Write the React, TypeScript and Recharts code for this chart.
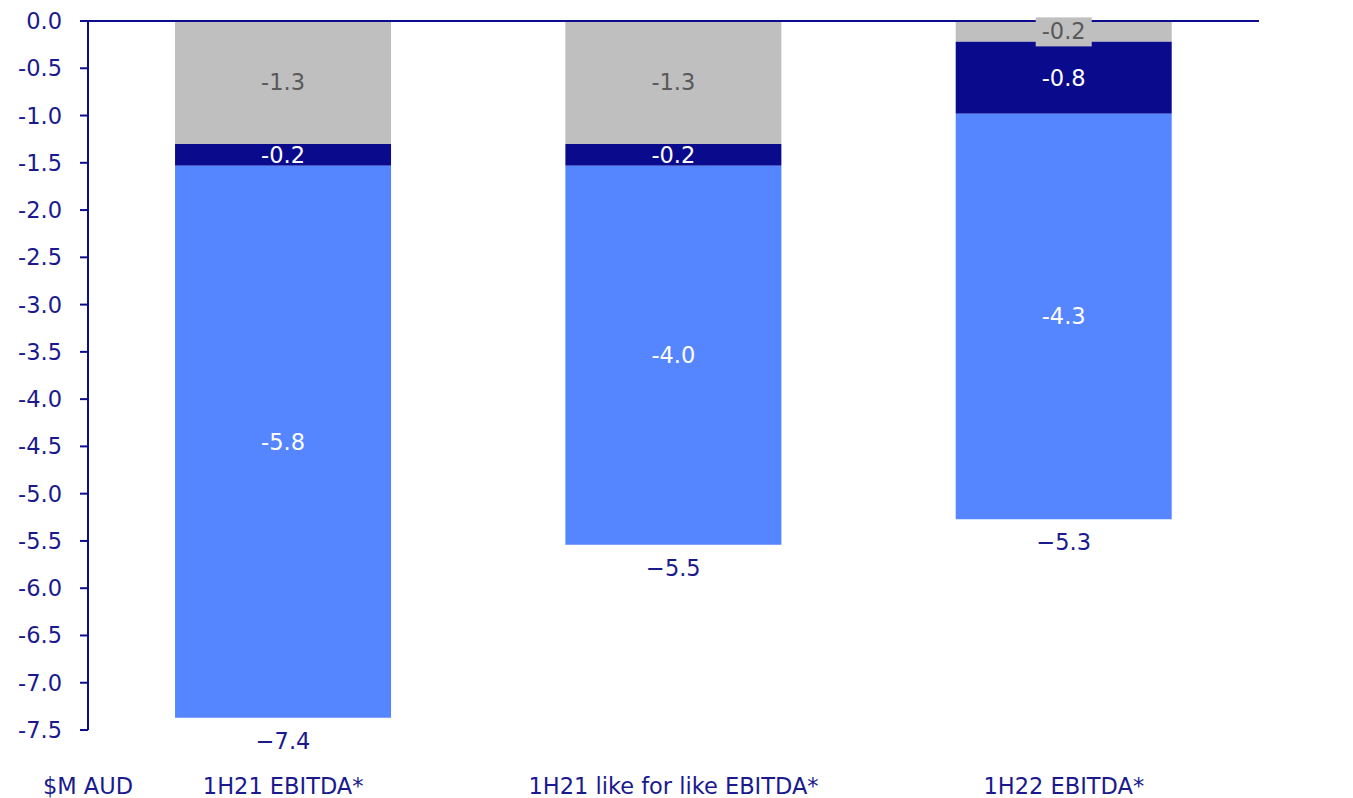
import React from "react";
import { BarChart, Bar, XAxis, YAxis, ReferenceLine, LabelList } from "recharts";

const categories = ["1H21 EBITDA*", "1H21 like for like EBITDA*", "1H22 EBITDA*"];
const greyValues = [-1.3, -1.3, -0.22];
const navyValues = [-0.23, -0.23, -0.76];
const blueValues = [-5.84, -4.01, -4.29];
const yTicks = [0, -0.5, -1, -1.5, -2, -2.5, -3, -3.5, -4, -4.5, -5, -5.5, -6, -6.5, -7, -7.5];

const NAVY = "#0c0c8c";
const TEXT_NAVY = "#1a1a8e";
const GREY = "#bfbfbf";
const BLUE = "#5585ff";
const FONT = "'DejaVu Sans', sans-serif";
const FONT_SIZE = 22.5;

const data = categories.map((name, i) => ({
  name,
  grey: greyValues[i],
  navy: navyValues[i],
  blue: blueValues[i],
  total: greyValues[i] + navyValues[i] + blueValues[i],
}));

const fmt = (v: number) => v.toFixed(1);

function segmentBounds(p: any) {
  const y = Number(p.y);
  const h = Number(p.height);
  return { top: Math.min(y, y + h), bottom: Math.max(y, y + h) };
}

// label in the grey segment sits on its own grey box (visible when the segment is thin)
function GreyLabel(p: any) {
  const { top, bottom } = segmentBounds(p);
  const cx = Number(p.x) + Number(p.width) / 2;
  const cy = (top + bottom) / 2;
  return (
    <g>
      <rect x={cx - 28} y={cy - 14} width={56} height={29} fill={GREY} />
      <text x={cx} y={cy} dy={8} textAnchor="middle" fill="#595959" fontSize={FONT_SIZE} fontFamily={FONT}>
        {fmt(Number(p.value))}
      </text>
    </g>
  );
}

function WhiteLabel(p: any) {
  const { top, bottom } = segmentBounds(p);
  const cx = Number(p.x) + Number(p.width) / 2;
  return (
    <text x={cx} y={(top + bottom) / 2} dy={8} textAnchor="middle" fill="#ffffff" fontSize={FONT_SIZE} fontFamily={FONT}>
      {fmt(Number(p.value))}
    </text>
  );
}

function TotalLabel(p: any) {
  const { bottom } = segmentBounds(p);
  const cx = Number(p.x) + Number(p.width) / 2;
  const total = data[p.index].total;
  return (
    <text x={cx} y={bottom + 23} dy={8} textAnchor="middle" fill={TEXT_NAVY} fontSize={FONT_SIZE} fontFamily={FONT}>
      {"\u2212" + Math.abs(total).toFixed(1)}
    </text>
  );
}

function CategoryTick(p: any) {
  return (
    <text x={p.x} y={778} dy={8} textAnchor="middle" fill={TEXT_NAVY} fontSize={FONT_SIZE} fontFamily={FONT}>
      {p.payload.value}
    </text>
  );
}

function UnitLabel(p: any) {
  const vb = p.viewBox;
  return (
    <text x={vb.x + vb.width} y={778} dy={8} textAnchor="middle" fill={TEXT_NAVY} fontSize={FONT_SIZE} fontFamily={FONT}>
      $M AUD
    </text>
  );
}

export default function App() {
  return (
    <div style={{ width: 1337, height: 790 }}>
      <BarChart
        width={1337}
        height={790}
        data={data}
        margin={{ top: 13, right: 86, bottom: 8, left: 0 }}
        barCategoryGap="22.3%"
      >
        <XAxis dataKey="name" height={60} axisLine={false} tickLine={false} tick={<CategoryTick />} interval={0} />
        <YAxis
          width={80}
          domain={[-7.5, 0]}
          ticks={yTicks}
          allowDataOverflow
          tickFormatter={(v: number) => v.toFixed(1)}
          axisLine={{ stroke: NAVY, strokeWidth: 2 }}
          tickLine={{ stroke: NAVY, strokeWidth: 2 }}
          tickSize={8}
          tickMargin={18}
          tick={{ fill: TEXT_NAVY, fontSize: FONT_SIZE, fontFamily: FONT }}
          label={<UnitLabel />}
        />
        <Bar dataKey="grey" stackId="a" fill={GREY} isAnimationActive={false}>
          <LabelList dataKey="grey" content={<GreyLabel />} />
        </Bar>
        <Bar dataKey="navy" stackId="a" fill="#0a0a8c" isAnimationActive={false}>
          <LabelList dataKey="navy" content={<WhiteLabel />} />
        </Bar>
        <Bar dataKey="blue" stackId="a" fill={BLUE} isAnimationActive={false}>
          <LabelList dataKey="blue" content={<WhiteLabel />} />
          <LabelList dataKey="blue" content={<TotalLabel />} />
        </Bar>
        <ReferenceLine y={0} stroke={NAVY} strokeWidth={2} />
      </BarChart>
    </div>
  );
}
